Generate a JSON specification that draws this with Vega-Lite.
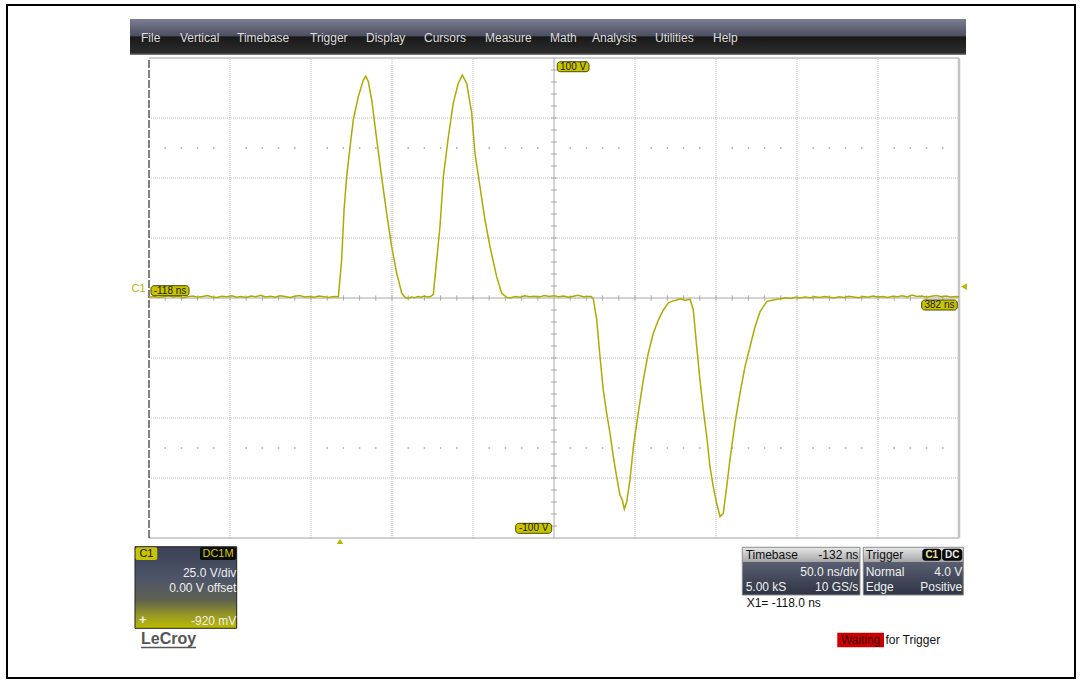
{
"$schema": "https://vega.github.io/schema/vega-lite/v6.json",
"width": 1082, "height": 681, "padding": 0, "autosize": {"type": "none"},
"background": "white",
"config": {"view": {"stroke": null}, "axis": {"disable": true}, "font": "Liberation Sans", "text": {"font": "Liberation Sans"}},
"data": {"values": [{}]},
"datasets": {
 "vgrid": [{"t": -68}, {"t": -18}, {"t": 32}, {"t": 82}, {"t": 182}, {"t": 232}, {"t": 282}, {"t": 332}],
 "hgrid": [{"v": -75}, {"v": -50}, {"v": -25}, {"v": 25}, {"v": 50}, {"v": 75}],
 "hticks": [{"t":-108},{"t":-98},{"t":-88},{"t":-78},{"t":-68},{"t":-58},{"t":-48},{"t":-38},{"t":-28},{"t":-18},{"t":-8},{"t":2},{"t":12},{"t":22},{"t":32},{"t":42},{"t":52},{"t":62},{"t":72},{"t":82},{"t":92},{"t":102},{"t":112},{"t":122},{"t":142},{"t":152},{"t":162},{"t":172},{"t":182},{"t":192},{"t":202},{"t":212},{"t":222},{"t":232},{"t":242},{"t":252},{"t":262},{"t":272},{"t":282},{"t":292},{"t":302},{"t":312},{"t":322},{"t":332},{"t":342},{"t":352},{"t":362},{"t":372}],
 "vticks": [{"v":-95},{"v":-90},{"v":-85},{"v":-80},{"v":-75},{"v":-70},{"v":-65},{"v":-60},{"v":-55},{"v":-50},{"v":-45},{"v":-40},{"v":-35},{"v":-30},{"v":-25},{"v":-20},{"v":-15},{"v":-10},{"v":-5},{"v":5},{"v":10},{"v":15},{"v":20},{"v":25},{"v":30},{"v":35},{"v":40},{"v":45},{"v":50},{"v":55},{"v":60},{"v":65},{"v":70},{"v":75},{"v":80},{"v":85},{"v":90},{"v":95}],
 "dots": [{"t":-108},{"t":-98},{"t":-88},{"t":-78},{"t":-58},{"t":-48},{"t":-38},{"t":-28},{"t":-8},{"t":2},{"t":12},{"t":22},{"t":42},{"t":52},{"t":62},{"t":72},{"t":92},{"t":102},{"t":112},{"t":122},{"t":142},{"t":152},{"t":162},{"t":172},{"t":192},{"t":202},{"t":212},{"t":222},{"t":242},{"t":252},{"t":262},{"t":272},{"t":292},{"t":302},{"t":312},{"t":322},{"t":342},{"t":352},{"t":362},{"t":372}],
 "wave": [
  {"t":-118,"v":0.3},{"t":-115,"v":0.6},{"t":-112,"v":0.2},{"t":-109,"v":0.5},{"t":-106,"v":0.9},{"t":-103,"v":0.4},{"t":-100,"v":0.7},{"t":-97,"v":0.1},{"t":-94,"v":0.5},{"t":-91,"v":0.8},{"t":-88,"v":0.3},{"t":-85,"v":0.6},{"t":-82,"v":1.0},{"t":-79,"v":0.4},{"t":-76,"v":0.2},{"t":-73,"v":0.7},{"t":-70,"v":0.5},{"t":-67,"v":0.9},{"t":-64,"v":0.3},{"t":-61,"v":0.6},{"t":-58,"v":0.2},{"t":-55,"v":0.8},{"t":-52,"v":0.5},{"t":-49,"v":1.1},{"t":-46,"v":0.4},{"t":-43,"v":0.7},{"t":-40,"v":0.3},{"t":-37,"v":0.9},{"t":-34,"v":0.6},{"t":-31,"v":0.2},{"t":-28,"v":0.7},{"t":-25,"v":1.0},{"t":-22,"v":0.4},{"t":-19,"v":0.6},{"t":-16,"v":0.3},{"t":-13,"v":0.8},{"t":-10,"v":0.5},{"t":-7,"v":0.2},{"t":-4,"v":0.6},{"t":-1.1,"v":0.5},
  {"t":0.9,"v":15.8},{"t":2.4,"v":36.7},{"t":4.0,"v":50.5},{"t":6.1,"v":63.0},{"t":8.1,"v":74.2},{"t":11.2,"v":83.9},{"t":14.3,"v":90.8},{"t":15.8,"v":92.5},{"t":17.4,"v":90.1},{"t":19.5,"v":82.5},{"t":22.6,"v":65.8},{"t":25.6,"v":50.5},{"t":28.7,"v":35.3},{"t":31.8,"v":21.4},{"t":34.9,"v":10.3},{"t":38.0,"v":2.0},{"t":40.0,"v":0.3},
  {"t":42,"v":-0.2},{"t":44,"v":0.4},{"t":46,"v":0.1},{"t":48,"v":0.6},{"t":50,"v":0.3},{"t":52,"v":0.8},{"t":54,"v":0.4},{"t":56,"v":0.7},{"t":57.5,"v":1.5},
  {"t":59.6,"v":15.8},{"t":61.6,"v":29.7},{"t":63.7,"v":50.5},{"t":66.8,"v":67.2},{"t":69.8,"v":81.1},{"t":72.9,"v":89.5},{"t":75.4,"v":92.9},{"t":78.1,"v":89.5},{"t":81.2,"v":77.0},{"t":83.2,"v":60.3},{"t":86.3,"v":46.4},{"t":89.4,"v":32.5},{"t":92.5,"v":21.4},{"t":96.6,"v":8.9},{"t":99.7,"v":2.0},{"t":102.8,"v":0.3},
  {"t":105,"v":0.0},{"t":108,"v":0.6},{"t":111,"v":0.3},{"t":114,"v":0.9},{"t":117,"v":0.5},{"t":120,"v":0.7},{"t":123,"v":0.4},{"t":126,"v":1.0},{"t":129,"v":0.6},{"t":132,"v":0.9},{"t":135,"v":0.5},{"t":138,"v":0.8},{"t":141,"v":0.3},{"t":144,"v":0.7},{"t":147,"v":1.1},{"t":150,"v":0.5},{"t":153,"v":0.6},{"t":155,"v":0.6},
  {"t":156.3,"v":-0.5},{"t":158.4,"v":-9.2},{"t":160.4,"v":-24.5},{"t":162.4,"v":-38.3},{"t":164.5,"v":-48.0},{"t":166.6,"v":-56.4},{"t":168.6,"v":-66.1},{"t":170.7,"v":-74.5},{"t":172.7,"v":-82.1},{"t":174.2,"v":-84.2},{"t":175.4,"v":-88.0},{"t":176.9,"v":-84.9},{"t":178.9,"v":-75.8},{"t":181.0,"v":-62.0},{"t":184.0,"v":-48.0},{"t":187.1,"v":-34.2},{"t":190.2,"v":-23.0},{"t":193.3,"v":-14.7},{"t":196.4,"v":-9.2},{"t":199.5,"v":-5.0},{"t":202.6,"v":-2.0},{"t":205,"v":-1.3},{"t":207.7,"v":-0.8},{"t":210,"v":-0.3},{"t":213,"v":-0.9},{"t":216.0,"v":-0.5},
  {"t":218.0,"v":-5.0},{"t":220.1,"v":-20.3},{"t":222.1,"v":-34.2},{"t":224.2,"v":-46.7},{"t":226.3,"v":-57.8},{"t":228.3,"v":-70.3},{"t":230.3,"v":-78.6},{"t":232.4,"v":-85.5},{"t":234.5,"v":-91.1},{"t":236.5,"v":-89.7},{"t":238.6,"v":-78.6},{"t":240.6,"v":-67.5},{"t":243.7,"v":-52.2},{"t":246.8,"v":-39.7},{"t":249.9,"v":-28.6},{"t":253.0,"v":-20.3},{"t":256.1,"v":-12.0},{"t":259.2,"v":-5.7},{"t":263.3,"v":-1.5},{"t":266.5,"v":-0.9},{"t":269.5,"v":-0.5},
  {"t":272,"v":-0.3},{"t":275,"v":0.1},{"t":278,"v":-0.2},{"t":281,"v":0.3},{"t":284,"v":0.0},{"t":287,"v":0.4},{"t":290,"v":0.1},{"t":293,"v":0.5},{"t":296,"v":0.2},{"t":299,"v":0.6},{"t":302,"v":0.3},{"t":305,"v":0.0},{"t":308,"v":0.5},{"t":311,"v":0.2},{"t":314,"v":0.7},{"t":317,"v":0.4},{"t":320,"v":0.1},{"t":323,"v":0.6},{"t":326,"v":0.3},{"t":329,"v":0.8},{"t":332,"v":0.4},{"t":335,"v":0.6},{"t":338,"v":0.2},{"t":341,"v":0.7},{"t":344,"v":0.5},{"t":347,"v":0.9},{"t":350,"v":0.4},{"t":353,"v":1.2},{"t":356,"v":0.6},{"t":359,"v":0.8},{"t":362,"v":0.3},{"t":365,"v":0.7},{"t":368,"v":1.0},{"t":371,"v":0.5},{"t":374,"v":0.8},{"t":377,"v":0.4},{"t":380,"v":0.6},{"t":382,"v":0.5}
 ]
},
"layer": [
 {"mark": {"type": "rect", "fillOpacity": 0, "stroke": "#000000", "strokeWidth": 2},
  "encoding": {"x": {"datum": -205.66, "type": "quantitative", "scale": {"domain": [-209.98, 457.93], "nice": false, "zero": false}}, "x2": {"datum": 453.6},
   "y": {"datum": 122.08, "type": "quantitative", "scale": {"domain": [-159.58, 124.17], "nice": false, "zero": false}}, "y2": {"datum": -158.33}}},
 {"mark": {"type": "rect", "color": {"gradient": "linear", "x1": 0, "y1": 0, "x2": 0, "y2": 1, "stops": [{"offset": 0, "color": "#7a7e90"}, {"offset": 0.46, "color": "#4c5061"}, {"offset": 0.5, "color": "#191919"}, {"offset": 0.94, "color": "#2c2c2c"}, {"offset": 1, "color": "#8a8a8a"}]}},
  "encoding": {"x": {"datum": -129.73, "type": "quantitative"}, "x2": {"datum": 386.32}, "y": {"datum": 116.25, "type": "quantitative"}, "y2": {"datum": 101.25}}},
 {"mark": {"type": "text", "text": "File", "align": "left", "baseline": "middle", "fontSize": 12, "color": "#dcdcdc"}, "encoding": {"x": {"datum": -122.94, "type": "quantitative"}, "y": {"datum": 108.33, "type": "quantitative"}}},
 {"mark": {"type": "text", "text": "Vertical", "align": "left", "baseline": "middle", "fontSize": 12, "color": "#dcdcdc"}, "encoding": {"x": {"datum": -98.87, "type": "quantitative"}, "y": {"datum": 108.33, "type": "quantitative"}}},
 {"mark": {"type": "text", "text": "Timebase", "align": "left", "baseline": "middle", "fontSize": 12, "color": "#dcdcdc"}, "encoding": {"x": {"datum": -63.68, "type": "quantitative"}, "y": {"datum": 108.33, "type": "quantitative"}}},
 {"mark": {"type": "text", "text": "Trigger", "align": "left", "baseline": "middle", "fontSize": 12, "color": "#dcdcdc"}, "encoding": {"x": {"datum": -18.62, "type": "quantitative"}, "y": {"datum": 108.33, "type": "quantitative"}}},
 {"mark": {"type": "text", "text": "Display", "align": "left", "baseline": "middle", "fontSize": 12, "color": "#dcdcdc"}, "encoding": {"x": {"datum": 15.95, "type": "quantitative"}, "y": {"datum": 108.33, "type": "quantitative"}}},
 {"mark": {"type": "text", "text": "Cursors", "align": "left", "baseline": "middle", "fontSize": 12, "color": "#dcdcdc"}, "encoding": {"x": {"datum": 51.75, "type": "quantitative"}, "y": {"datum": 108.33, "type": "quantitative"}}},
 {"mark": {"type": "text", "text": "Measure", "align": "left", "baseline": "middle", "fontSize": 12, "color": "#dcdcdc"}, "encoding": {"x": {"datum": 89.4, "type": "quantitative"}, "y": {"datum": 108.33, "type": "quantitative"}}},
 {"mark": {"type": "text", "text": "Math", "align": "left", "baseline": "middle", "fontSize": 12, "color": "#dcdcdc"}, "encoding": {"x": {"datum": 129.53, "type": "quantitative"}, "y": {"datum": 108.33, "type": "quantitative"}}},
 {"mark": {"type": "text", "text": "Analysis", "align": "left", "baseline": "middle", "fontSize": 12, "color": "#dcdcdc"}, "encoding": {"x": {"datum": 155.45, "type": "quantitative"}, "y": {"datum": 108.33, "type": "quantitative"}}},
 {"mark": {"type": "text", "text": "Utilities", "align": "left", "baseline": "middle", "fontSize": 12, "color": "#dcdcdc"}, "encoding": {"x": {"datum": 194.34, "type": "quantitative"}, "y": {"datum": 108.33, "type": "quantitative"}}},
 {"mark": {"type": "text", "text": "Help", "align": "left", "baseline": "middle", "fontSize": 12, "color": "#dcdcdc"}, "encoding": {"x": {"datum": 230.14, "type": "quantitative"}, "y": {"datum": 108.33, "type": "quantitative"}}},

 {"data": {"name": "vgrid"}, "mark": {"type": "rule", "color": "#bcbcbc", "strokeWidth": 1, "strokeDash": [1, 1]},
  "encoding": {"x": {"field": "t", "type": "quantitative"}, "y": {"datum": -100, "type": "quantitative"}, "y2": {"datum": 100}}},
 {"data": {"name": "hgrid"}, "mark": {"type": "rule", "color": "#bcbcbc", "strokeWidth": 1, "strokeDash": [1, 1]},
  "encoding": {"y": {"field": "v", "type": "quantitative"}, "x": {"datum": -118, "type": "quantitative"}, "x2": {"datum": 382}}},
 {"data": {"name": "dots"}, "mark": {"type": "square", "color": "#9a9a9a", "size": 2, "opacity": 1},
  "encoding": {"x": {"field": "t", "type": "quantitative"}, "y": {"datum": 62.5, "type": "quantitative"}}},
 {"data": {"name": "dots"}, "mark": {"type": "square", "color": "#9a9a9a", "size": 2, "opacity": 1},
  "encoding": {"x": {"field": "t", "type": "quantitative"}, "y": {"datum": -62.5, "type": "quantitative"}}},
 {"mark": {"type": "rule", "color": "#a8a8a8", "strokeWidth": 1}, "encoding": {"x": {"datum": 132, "type": "quantitative"}, "y": {"datum": -100, "type": "quantitative"}, "y2": {"datum": 100}}},
 {"mark": {"type": "rule", "color": "#a8a8a8", "strokeWidth": 1}, "encoding": {"y": {"datum": 0, "type": "quantitative"}, "x": {"datum": -118, "type": "quantitative"}, "x2": {"datum": 382}}},
 {"data": {"name": "hticks"}, "mark": {"type": "rule", "color": "#a8a8a8", "strokeWidth": 1},
  "encoding": {"x": {"field": "t", "type": "quantitative"}, "y": {"datum": -1.1, "type": "quantitative"}, "y2": {"datum": 1.1}}},
 {"data": {"name": "vticks"}, "mark": {"type": "rule", "color": "#a8a8a8", "strokeWidth": 1},
  "encoding": {"y": {"field": "v", "type": "quantitative"}, "x": {"datum": 130.15, "type": "quantitative"}, "x2": {"datum": 133.85}}},
 {"mark": {"type": "rule", "color": "#a0a0a0", "strokeWidth": 1}, "encoding": {"y": {"datum": 100, "type": "quantitative"}, "x": {"datum": -118, "type": "quantitative"}, "x2": {"datum": 382}}},
 {"mark": {"type": "rule", "color": "#a0a0a0", "strokeWidth": 1}, "encoding": {"y": {"datum": -100, "type": "quantitative"}, "x": {"datum": -118, "type": "quantitative"}, "x2": {"datum": 382}}},
 {"mark": {"type": "rule", "color": "#c4c4c4", "strokeWidth": 2.5}, "encoding": {"x": {"datum": 382, "type": "quantitative"}, "y": {"datum": -100, "type": "quantitative"}, "y2": {"datum": 100}}},
 {"mark": {"type": "rule", "color": "#000000", "strokeWidth": 1, "strokeDash": [8, 2]}, "encoding": {"x": {"datum": -118, "type": "quantitative"}, "y": {"datum": -100, "type": "quantitative"}, "y2": {"datum": 100}}},

 {"data": {"name": "wave"}, "mark": {"type": "line", "color": "#b0aa00", "strokeWidth": 1.5, "interpolate": "linear"},
  "encoding": {"x": {"field": "t", "type": "quantitative", "scale": {"domain": [-209.98, 457.93], "nice": false, "zero": false}}, "y": {"field": "v", "type": "quantitative", "scale": {"domain": [-159.58, 124.17], "nice": false, "zero": false}}}},

 {"mark": {"type": "rect", "fill": "#c8c400", "stroke": "#4a4a00", "strokeWidth": 1, "cornerRadius": 3}, "encoding": {"x": {"datum": 134.03, "type": "quantitative"}, "x2": {"datum": 153.6}, "y": {"datum": 98.46, "type": "quantitative"}, "y2": {"datum": 94.29}}},
 {"mark": {"type": "text", "text": "100 V", "align": "center", "baseline": "middle", "fontSize": 10, "color": "#202000"}, "encoding": {"x": {"datum": 143.8, "type": "quantitative"}, "y": {"datum": 96.4, "type": "quantitative"}}},
 {"mark": {"type": "rect", "fill": "#c8c400", "stroke": "#4a4a00", "strokeWidth": 1, "cornerRadius": 3}, "encoding": {"x": {"datum": 108.35, "type": "quantitative"}, "x2": {"datum": 130.57}, "y": {"datum": -93.88, "type": "quantitative"}, "y2": {"datum": -98.04}}},
 {"mark": {"type": "text", "text": "-100 V", "align": "center", "baseline": "middle", "fontSize": 10, "color": "#202000"}, "encoding": {"x": {"datum": 119.46, "type": "quantitative"}, "y": {"datum": -95.96, "type": "quantitative"}}},
 {"mark": {"type": "rect", "fill": "#c8c400", "stroke": "#4a4a00", "strokeWidth": 1, "cornerRadius": 3}, "encoding": {"x": {"datum": -116.77, "type": "quantitative"}, "x2": {"datum": -93.31}, "y": {"datum": 5.13, "type": "quantitative"}, "y2": {"datum": 0.96}}},
 {"mark": {"type": "text", "text": "-118 ns", "align": "center", "baseline": "middle", "fontSize": 10, "color": "#202000"}, "encoding": {"x": {"datum": -105.04, "type": "quantitative"}, "y": {"datum": 3.05, "type": "quantitative"}}},
 {"mark": {"type": "rect", "fill": "#c8c400", "stroke": "#4a4a00", "strokeWidth": 1, "cornerRadius": 3}, "encoding": {"x": {"datum": 358.97, "type": "quantitative"}, "x2": {"datum": 380.94}, "y": {"datum": -0.83, "type": "quantitative"}, "y2": {"datum": -5.0}}},
 {"mark": {"type": "text", "text": "382 ns", "align": "center", "baseline": "middle", "fontSize": 10, "color": "#202000"}, "encoding": {"x": {"datum": 369.95, "type": "quantitative"}, "y": {"datum": -2.92, "type": "quantitative"}}},
 {"mark": {"type": "text", "text": "C1", "align": "center", "baseline": "middle", "fontSize": 11, "color": "#b8b400"}, "encoding": {"x": {"datum": -124.4, "type": "quantitative"}, "y": {"datum": 3.75, "type": "quantitative"}}},
 {"mark": {"type": "point", "shape": "triangle-left", "filled": true, "color": "#b8b400", "size": 45, "opacity": 1}, "encoding": {"x": {"datum": 385.08, "type": "quantitative"}, "y": {"datum": 4.71, "type": "quantitative"}}},
 {"mark": {"type": "point", "shape": "triangle-up", "filled": true, "color": "#b8b400", "size": 40, "opacity": 1}, "encoding": {"x": {"datum": -0.1, "type": "quantitative"}, "y": {"datum": -101.4, "type": "quantitative"}}},

 {"mark": {"type": "rect", "stroke": "#222222", "strokeWidth": 1, "color": {"gradient": "linear", "x1": 0, "y1": 0, "x2": 0, "y2": 1, "stops": [{"offset": 0, "color": "#3a4155"}, {"offset": 0.4, "color": "#4e5568"}, {"offset": 0.65, "color": "#5e6150"}, {"offset": 0.85, "color": "#9a9a22"}, {"offset": 1, "color": "#bcbc00"}]}},
  "encoding": {"x": {"datum": -126.65, "type": "quantitative"}, "x2": {"datum": -63.87}, "y": {"datum": -103.63, "type": "quantitative"}, "y2": {"datum": -137.63}}},
 {"mark": {"type": "rect", "fill": "#c8c400", "cornerRadius": 2}, "encoding": {"x": {"datum": -126.3, "type": "quantitative"}, "x2": {"datum": -112.88}, "y": {"datum": -103.9, "type": "quantitative"}, "y2": {"datum": -109.17}}},
 {"mark": {"type": "text", "text": "C1", "align": "center", "baseline": "middle", "fontSize": 11, "color": "#111111"}, "encoding": {"x": {"datum": -119.6, "type": "quantitative"}, "y": {"datum": -106.5, "type": "quantitative"}}},
 {"mark": {"type": "rect", "fill": "#0a0a0a", "cornerRadius": 2}, "encoding": {"x": {"datum": -86.52, "type": "quantitative"}, "x2": {"datum": -64.2}, "y": {"datum": -103.9, "type": "quantitative"}, "y2": {"datum": -109.17}}},
 {"mark": {"type": "text", "text": "DC1M", "align": "center", "baseline": "middle", "fontSize": 11, "color": "#d0cc00"}, "encoding": {"x": {"datum": -75.4, "type": "quantitative"}, "y": {"datum": -106.5, "type": "quantitative"}}},
 {"mark": {"type": "text", "text": "25.0 V/div", "align": "right", "baseline": "middle", "fontSize": 12, "color": "#eeeeee"}, "encoding": {"x": {"datum": -64.1, "type": "quantitative"}, "y": {"datum": -114.71, "type": "quantitative"}}},
 {"mark": {"type": "text", "text": "0.00 V offset", "align": "right", "baseline": "middle", "fontSize": 12, "color": "#eeeeee"}, "encoding": {"x": {"datum": -64.1, "type": "quantitative"}, "y": {"datum": -120.96, "type": "quantitative"}}},
 {"mark": {"type": "text", "text": "-920 mV", "align": "right", "baseline": "middle", "fontSize": 12, "color": "#eeeeee"}, "encoding": {"x": {"datum": -64.1, "type": "quantitative"}, "y": {"datum": -134.58, "type": "quantitative"}}},
 {"mark": {"type": "text", "text": "+", "align": "center", "baseline": "middle", "fontSize": 13, "fontWeight": "bold", "color": "#eeeeee"}, "encoding": {"x": {"datum": -121.8, "type": "quantitative"}, "y": {"datum": -134.3, "type": "quantitative"}}},
 {"mark": {"type": "text", "text": "LeCroy", "align": "left", "baseline": "middle", "fontSize": 16, "fontWeight": "bold", "color": "#555555"}, "encoding": {"x": {"datum": -122.94, "type": "quantitative"}, "y": {"datum": -142.0, "type": "quantitative"}}},
 {"mark": {"type": "rule", "color": "#555555", "strokeWidth": 1.5}, "encoding": {"x": {"datum": -122.94, "type": "quantitative"}, "x2": {"datum": -88.99}, "y": {"datum": -145.6, "type": "quantitative"}}},

 {"mark": {"type": "rect", "stroke": "#888888", "strokeWidth": 1, "color": {"gradient": "linear", "x1": 0, "y1": 0, "x2": 0, "y2": 1, "stops": [{"offset": 0, "color": "#6c7284"}, {"offset": 1, "color": "#2e3444"}]}},
  "encoding": {"x": {"datum": 248.23, "type": "quantitative"}, "x2": {"datum": 320.88}, "y": {"datum": -103.87, "type": "quantitative"}, "y2": {"datum": -123.75}}},
 {"mark": {"type": "rect", "stroke": "#888888", "strokeWidth": 1, "color": {"gradient": "linear", "x1": 0, "y1": 0, "x2": 0, "y2": 1, "stops": [{"offset": 0, "color": "#6c7284"}, {"offset": 1, "color": "#2e3444"}]}},
  "encoding": {"x": {"datum": 322.92, "type": "quantitative"}, "x2": {"datum": 384.65}, "y": {"datum": -103.87, "type": "quantitative"}, "y2": {"datum": -123.75}}},
 {"mark": {"type": "rect", "color": {"gradient": "linear", "x1": 0, "y1": 0, "x2": 0, "y2": 1, "stops": [{"offset": 0, "color": "#e4e4e4"}, {"offset": 1, "color": "#a6a6a8"}]}},
  "encoding": {"x": {"datum": 248.5, "type": "quantitative"}, "x2": {"datum": 320.6}, "y": {"datum": -104.1, "type": "quantitative"}, "y2": {"datum": -110.0}}},
 {"mark": {"type": "rect", "color": {"gradient": "linear", "x1": 0, "y1": 0, "x2": 0, "y2": 1, "stops": [{"offset": 0, "color": "#e4e4e4"}, {"offset": 1, "color": "#a6a6a8"}]}},
  "encoding": {"x": {"datum": 323.2, "type": "quantitative"}, "x2": {"datum": 384.4}, "y": {"datum": -104.1, "type": "quantitative"}, "y2": {"datum": -110.0}}},
 {"mark": {"type": "text", "text": "Timebase", "align": "left", "baseline": "middle", "fontSize": 12, "color": "#111111"}, "encoding": {"x": {"datum": 250.3, "type": "quantitative"}, "y": {"datum": -107.08, "type": "quantitative"}}},
 {"mark": {"type": "text", "text": "-132 ns", "align": "right", "baseline": "middle", "fontSize": 12, "color": "#111111"}, "encoding": {"x": {"datum": 319.85, "type": "quantitative"}, "y": {"datum": -107.08, "type": "quantitative"}}},
 {"mark": {"type": "text", "text": "50.0 ns/div", "align": "right", "baseline": "middle", "fontSize": 12, "color": "#f0f0f0"}, "encoding": {"x": {"datum": 319.85, "type": "quantitative"}, "y": {"datum": -114.29, "type": "quantitative"}}},
 {"mark": {"type": "text", "text": "5.00 kS", "align": "left", "baseline": "middle", "fontSize": 12, "color": "#f0f0f0"}, "encoding": {"x": {"datum": 250.3, "type": "quantitative"}, "y": {"datum": -120.29, "type": "quantitative"}}},
 {"mark": {"type": "text", "text": "10 GS/s", "align": "right", "baseline": "middle", "fontSize": 12, "color": "#f0f0f0"}, "encoding": {"x": {"datum": 319.85, "type": "quantitative"}, "y": {"datum": -120.29, "type": "quantitative"}}},
 {"mark": {"type": "text", "text": "Trigger", "align": "left", "baseline": "middle", "fontSize": 12, "color": "#111111"}, "encoding": {"x": {"datum": 324.4, "type": "quantitative"}, "y": {"datum": -107.08, "type": "quantitative"}}},
 {"mark": {"type": "rect", "fill": "#0a0a0a", "cornerRadius": 3}, "encoding": {"x": {"datum": 359.34, "type": "quantitative"}, "x2": {"datum": 371.0}, "y": {"datum": -104.5, "type": "quantitative"}, "y2": {"datum": -109.5}}},
 {"mark": {"type": "text", "text": "C1", "align": "center", "baseline": "middle", "fontSize": 10, "fontWeight": "bold", "color": "#e8e4a0"}, "encoding": {"x": {"datum": 365.2, "type": "quantitative"}, "y": {"datum": -107.0, "type": "quantitative"}}},
 {"mark": {"type": "rect", "fill": "#0a0a0a", "cornerRadius": 3}, "encoding": {"x": {"datum": 371.6, "type": "quantitative"}, "x2": {"datum": 384.03}, "y": {"datum": -104.5, "type": "quantitative"}, "y2": {"datum": -109.5}}},
 {"mark": {"type": "text", "text": "DC", "align": "center", "baseline": "middle", "fontSize": 10, "fontWeight": "bold", "color": "#e8e8e8"}, "encoding": {"x": {"datum": 377.8, "type": "quantitative"}, "y": {"datum": -107.0, "type": "quantitative"}}},
 {"mark": {"type": "text", "text": "Normal", "align": "left", "baseline": "middle", "fontSize": 12, "color": "#f0f0f0"}, "encoding": {"x": {"datum": 324.4, "type": "quantitative"}, "y": {"datum": -114.29, "type": "quantitative"}}},
 {"mark": {"type": "text", "text": "4.0 V", "align": "right", "baseline": "middle", "fontSize": 12, "color": "#f0f0f0"}, "encoding": {"x": {"datum": 384.03, "type": "quantitative"}, "y": {"datum": -114.29, "type": "quantitative"}}},
 {"mark": {"type": "text", "text": "Edge", "align": "left", "baseline": "middle", "fontSize": 12, "color": "#f0f0f0"}, "encoding": {"x": {"datum": 324.4, "type": "quantitative"}, "y": {"datum": -120.29, "type": "quantitative"}}},
 {"mark": {"type": "text", "text": "Positive", "align": "right", "baseline": "middle", "fontSize": 12, "color": "#f0f0f0"}, "encoding": {"x": {"datum": 384.03, "type": "quantitative"}, "y": {"datum": -120.29, "type": "quantitative"}}},
 {"mark": {"type": "text", "text": "X1=  -118.0 ns", "align": "left", "baseline": "middle", "fontSize": 12, "color": "#111111"}, "encoding": {"x": {"datum": 250.95, "type": "quantitative"}, "y": {"datum": -126.96, "type": "quantitative"}}},
 {"mark": {"type": "rect", "fill": "#c80000"}, "encoding": {"x": {"datum": 306.87, "type": "quantitative"}, "x2": {"datum": 335.7}, "y": {"datum": -139.46, "type": "quantitative"}, "y2": {"datum": -145.54}}},
 {"mark": {"type": "text", "text": "Waiting", "align": "center", "baseline": "middle", "fontSize": 12, "color": "#4a0000"}, "encoding": {"x": {"datum": 321.3, "type": "quantitative"}, "y": {"datum": -142.5, "type": "quantitative"}}},
 {"mark": {"type": "text", "text": "for Trigger", "align": "left", "baseline": "middle", "fontSize": 12, "color": "#111111"}, "encoding": {"x": {"datum": 336.6, "type": "quantitative"}, "y": {"datum": -142.5, "type": "quantitative"}}}
]
}
